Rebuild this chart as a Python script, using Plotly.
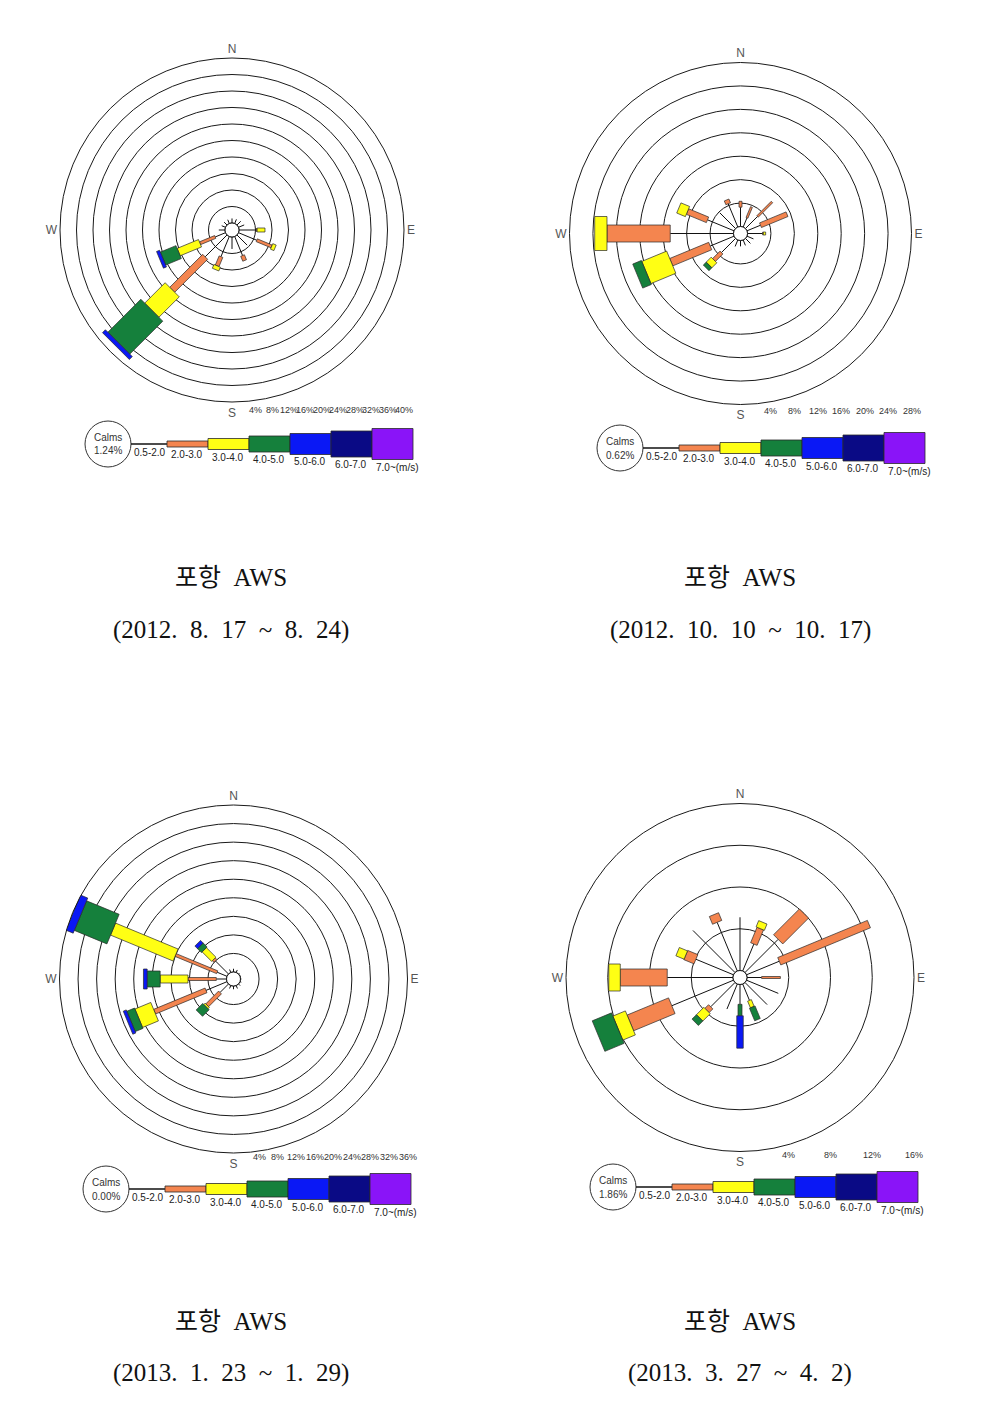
import math
import plotly.graph_objects as go

# ---------------------------------------------------------------- data
DIRECTIONS = ["N", "NNE", "NE", "ENE", "E", "ESE", "SE", "SSE",
              "S", "SSW", "SW", "WSW", "W", "WNW", "NW", "NNW"]
DIR_DEG = [0, 22.5, 45, 67.5, 90, 112.5, 135, 157.5,
           180, 202.5, 225, 247.5, 270, 292.5, 315, 337.5]
SPEED_LABELS = ["0.5-2.0", "2.0-3.0", "3.0-4.0", "4.0-5.0",
                "5.0-6.0", "6.0-7.0", "7.0~(m/s)"]
STATION = ["포항  AWS", "포항  AWS", "포항  AWS", "포항  AWS"]
PERIODS = ["(2012.  8.  17  ~  8.  24)", "(2012.  10.  10  ~  10.  17)",
           "(2013.  1.  23  ~  1.  29)", "(2013.  3.  27  ~  4.  2)"]
CALMS = [1.24, 0.62, 0.00, 1.86]
RING_MAX = [40, 28, 36, 16]          # outermost ring (%)

# frequency (%) per direction (N..NNW) for each speed class
P1_05_20 = [1.1, 1.1, 1.3, 1.5, 4.2, 4.8, 3.5, 5.0, 2.9, 5.3, 7.5, 2.7, 1.5, 1.0, 1.0, 1.0]
P1_20_30 = [0, 0, 0, 0, 0.2, 3.9, 0, 1.3, 0, 2.4, 11.3, 4.0, 0, 0, 0, 0]
P1_30_40 = [0, 0, 0, 0, 1.9, 0.9, 0, 0, 0, 1.0, 7.0, 5.6, 0, 0, 0, 0]
P1_40_50 = [0, 0, 0, 0, 0, 0, 0, 0, 0, 0, 11.3, 4.1, 0, 0, 0, 0]
P1_50_60 = [0, 0, 0, 0, 0, 0, 0, 0, 0, 0, 1.0, 0.8, 0, 0, 0, 0]
P1_60_70 = [0, 0, 0, 0, 0, 0, 0, 0, 0, 0, 0, 0, 0, 0, 0, 0]
P1_70_UP = [0, 0, 0, 0, 0, 0, 0, 0, 0, 0, 0, 0, 0, 0, 0, 0]

P2_05_20 = [3.3, 1.7, 2.9, 2.5, 2.6, 1.2, 1.2, 1.0, 1.0, 1.2, 3.4, 4.4, 10.8, 4.9, 3.8, 4.3]
P2_20_30 = [1.0, 2.0, 3.5, 4.9, 0.1, 0, 0, 0, 0, 0, 1.8, 7.2, 10.8, 3.7, 0, 0.7]
P2_30_40 = [0, 0, 0, 0, 0.4, 0, 0, 0, 0, 0, 1.2, 4.6, 2.1, 1.6, 0, 0]
P2_40_50 = [0, 0, 0, 0, 0, 0, 0, 0, 0, 0, 0.7, 1.6, 0, 0, 0, 0]
P2_50_60 = [0, 0, 0, 0, 0, 0, 0, 0, 0, 0, 0, 0, 0, 0, 0, 0]
P2_60_70 = [0, 0, 0, 0, 0, 0, 0, 0, 0, 0, 0, 0, 0, 0, 0, 0]
P2_70_UP = [0, 0, 0, 0, 0, 0, 0, 0, 0, 0, 0, 0, 0, 0, 0, 0]

P3_05_20 = [0.7, 0.6, 0.3, 0.2, 0.2, 0.3, 0.5, 0.7, 0.7, 0.7, 2.6, 4.9, 2.2, 2.3, 4.0, 0.7]
P3_20_30 = [0, 0, 0, 0, 0, 0, 0, 0, 0, 0, 3.9, 12.0, 6.1, 9.7, 0.5, 0]
P3_30_40 = [0, 0, 0, 0, 0, 0, 0, 0, 0, 0, 0.4, 3.7, 6.0, 14.6, 2.9, 0]
P3_40_50 = [0, 0, 0, 0, 0, 0, 0, 0, 0, 0, 2.0, 1.8, 2.8, 7.6, 1.2, 0]
P3_50_60 = [0, 0, 0, 0, 0, 0, 0, 0, 0, 0, 0, 0.7, 0.8, 1.7, 0.8, 0]
P3_60_70 = [0, 0, 0, 0, 0, 0, 0, 0, 0, 0, 0, 0, 0, 0, 0, 0]
P3_70_UP = [0, 0, 0, 0, 0, 0, 0, 0, 0, 0, 0, 0, 0, 0, 0, 0]

P4_05_20 = [5.1, 2.8, 4.5, 3.4, 1.4, 3.3, 3.0, 1.7, 1.9, 2.6, 3.3, 6.4, 6.3, 3.9, 5.7, 5.05]
P4_20_30 = [0, 1.6, 3.5, 9.3, 1.8, 0, 0, 0, 0, 0, 0.5, 4.3, 4.5, 1.05, 0, 0.8]
P4_30_40 = [0, 0.65, 0, 0, 0, 0, 0, 0.7, 0, 0, 1.0, 1.3, 1.1, 0.85, 0, 0]
P4_40_50 = [0, 0, 0, 0, 0, 0, 0, 1.3, 1.1, 0, 0.6, 2.0, 0, 0, 0, 0]
P4_50_60 = [0, 0, 0, 0, 0, 0, 0, 0, 3.1, 0, 0, 0, 0, 0, 0, 0]
P4_60_70 = [0, 0, 0, 0, 0, 0, 0, 0, 0, 0, 0, 0, 0, 0, 0, 0]
P4_70_UP = [0, 0, 0, 0, 0, 0, 0, 0, 0, 0, 0, 0, 0, 0, 0, 0]

PANELS_DATA = [
    [P1_05_20, P1_20_30, P1_30_40, P1_40_50, P1_50_60, P1_60_70, P1_70_UP],
    [P2_05_20, P2_20_30, P2_30_40, P2_40_50, P2_50_60, P2_60_70, P2_70_UP],
    [P3_05_20, P3_20_30, P3_30_40, P3_40_50, P3_50_60, P3_60_70, P3_70_UP],
    [P4_05_20, P4_20_30, P4_30_40, P4_40_50, P4_50_60, P4_60_70, P4_70_UP],
]

# ---------------------------------------------------------------- style
W, H = 1002, 1412
COLORS = ["#111111", "#F4854F", "#FFFF14", "#15803C", "#0A18F5", "#0A0A85", "#8A14F8"]
EDGE = "#2a2a2a"
SANS = "Liberation Sans, Arial, sans-serif"
SERIF = "Liberation Serif, Noto Sans CJK KR, serif"

# panel geometry in pixels: centre x, centre y, outer radius, calm radius
PANEL_GEOM = [(232, 230, 172, 7), (740.5, 233.5, 171, 7),
              (233.5, 979, 174, 7), (740, 977.5, 174, 7)]
RING_LABEL_Y = [410, 411, 1157, 1155]
LEGEND_POS = [(108, 444), (620, 448), (106, 1189), (613, 1187)]
TITLE_POS = [(231, 578, 630), (740, 578, 630), (231, 1321, 1373), (740, 1321, 1373)]
LEG_BOX_W = 41
LEG_BOX_H = [6, 11, 16, 21, 26, 31]
CALM_R = 23

DEFAULT_WIDTH = [4, 7, 12, 16, 20, 24]   # px width of speed classes 2.0-3.0 .. 7.0~
BAR_WIDTH = [
    {"E": [3, 4], "ESE": [3, 6], "SSE": [4], "SSW": [4, 7],
     "SW": [7, 20, 31, 38], "WSW": [3, 8, 14, 18]},
    {"N": [3], "NNE": [2], "NE": [2], "ENE": [5], "E": [3, 3],
     "SW": [4, 8, 8], "WSW": [8, 24, 26], "W": [17, 34], "WNW": [6, 11], "NNW": [5]},
    {"SW": [4, 6, 9], "WSW": [5, 20, 22, 25], "W": [3, 8, 16, 20],
     "WNW": [3, 13, 32, 38], "NW": [4, 6, 8, 8]},
    {"NNE": [7, 9], "NE": [13], "ENE": [8], "E": [2], "SSE": [4, 4, 6],
     "S": [4, 4, 4, 6.5], "SW": [6, 9, 9], "WSW": [17, 26, 33], "W": [17, 27],
     "WNW": [10, 9], "NNW": [10]},
]


def px(x, y):
    return x / W, 1 - y / H


def seg_polygon(theta, f1, f2, width, hole_px, scale):
    """Rectangle along direction theta, in radial-axis units (through hole offset)."""
    d1 = hole_px + f1 * scale
    d2 = hole_px + f2 * scale
    half = width / 2.0
    pts = [(d1, -half), (d2, -half), (d2, half), (d1, half), (d1, -half)]
    rr, tt = [], []
    for d, v in pts:
        rr.append((math.hypot(d, v) - hole_px) / scale)
        tt.append(theta + math.degrees(math.atan2(v, d)))
    return rr, tt


fig = go.Figure()
annotations, shapes = [], []
layout_polars = {}

for p in range(4):
    cx, cy, R, hole_px = PANEL_GEOM[p]
    rmax = RING_MAX[p]
    scale = (R - hole_px) / rmax
    sub = "polar" if p == 0 else f"polar{p + 1}"
    data = PANELS_DATA[p]

    # calm circle (edge of hole)
    circ_t = list(range(0, 361, 5))
    fig.add_trace(go.Scatterpolar(r=[0] * len(circ_t), theta=circ_t, mode="lines",
                                  line=dict(color="#1a1a1a", width=1),
                                  hoverinfo="skip", subplot=sub))

    for i, d in enumerate(DIRECTIONS):
        theta = DIR_DEG[i]
        # 0.5-2.0 class as a thin line
        lv = data[0][i]
        if lv > 0:
            fig.add_trace(go.Scatterpolar(r=[0, lv], theta=[theta, theta], mode="lines",
                                          line=dict(color=COLORS[0], width=1),
                                          hoverinfo="skip", subplot=sub))
        cum = lv
        widths = BAR_WIDTH[p].get(d, [])
        for k in range(1, 7):
            v = data[k][i]
            if v <= 0:
                continue
            w = widths[k - 1] if k - 1 < len(widths) else DEFAULT_WIDTH[k - 1]
            rr, tt = seg_polygon(theta, cum, cum + v, w, hole_px, scale)
            fig.add_trace(go.Scatterpolar(r=rr, theta=tt, mode="lines", fill="toself",
                                          fillcolor=COLORS[k],
                                          line=dict(color=EDGE, width=0.7),
                                          hoverinfo="skip", subplot=sub))
            cum += v

    layout_polars[sub] = dict(
        domain=dict(x=[(cx - R) / W, (cx + R) / W], y=[1 - (cy + R) / H, 1 - (cy - R) / H]),
        hole=hole_px / R,
        bgcolor="white",
        radialaxis=dict(range=[0, rmax], tickvals=list(range(4, rmax, 4)),
                        showticklabels=False, ticks="", showline=False,
                        gridcolor="#1a1a1a", gridwidth=0.8),
        angularaxis=dict(rotation=90, direction="clockwise", tickmode="array",
                         tickvals=[0, 90, 180, 270], ticktext=["N", "E", "S", "W"],
                         showgrid=False, showline=True, linecolor="#1a1a1a", linewidth=1,
                         ticks="", tickfont=dict(size=12, color="#555555", family=SANS)),
    )

    # ring labels
    for val in range(4, rmax + 1, 4):
        x, y = px(cx + hole_px + val * scale, RING_LABEL_Y[p])
        annotations.append(dict(x=x, y=y, xref="paper", yref="paper", text=f"{val}%",
                                showarrow=False, xanchor="center", yanchor="middle",
                                font=dict(size=9, family=SANS, color="#333333")))

    # legend: calm circle + speed classes
    lx, ly = LEGEND_POS[p]
    x0, y0 = px(lx - CALM_R, ly - CALM_R)
    x1, y1 = px(lx + CALM_R, ly + CALM_R)
    shapes.append(dict(type="circle", xref="paper", yref="paper", x0=x0, x1=x1, y0=y1, y1=y0,
                       line=dict(color="#333333", width=1), fillcolor="white"))
    for txt, dy in (("Calms", -7), (f"{CALMS[p]:.2f}%", 7)):
        x, y = px(lx, ly + dy)
        annotations.append(dict(x=x, y=y, xref="paper", yref="paper", text=txt,
                                showarrow=False, xanchor="center", yanchor="middle",
                                font=dict(size=10, family=SANS, color="#333333")))
    box_start = lx + 59
    xa, ya = px(lx + CALM_R, ly)
    xb, _ = px(box_start, ly)
    shapes.append(dict(type="line", xref="paper", yref="paper", x0=xa, x1=xb, y0=ya, y1=ya,
                       line=dict(color="#111111", width=1.5)))
    x, y = px(lx + CALM_R + 1, ly + 1)
    annotations.append(dict(x=x, y=y, xref="paper", yref="paper", text=SPEED_LABELS[0],
                            showarrow=False, xanchor="left", yanchor="top",
                            font=dict(size=10, family=SANS, color="#222222")))
    for k in range(1, 7):
        bx0 = box_start + (k - 1) * LEG_BOX_W
        hh = LEG_BOX_H[k - 1] / 2
        X0, Y0 = px(bx0, ly - hh)
        X1, Y1 = px(bx0 + LEG_BOX_W, ly + hh)
        shapes.append(dict(type="rect", xref="paper", yref="paper", x0=X0, x1=X1, y0=Y1, y1=Y0,
                           line=dict(color=EDGE, width=0.8), fillcolor=COLORS[k]))
        x, y = px(bx0 + 2, ly + hh)
        annotations.append(dict(x=x, y=y, xref="paper", yref="paper", text=SPEED_LABELS[k],
                                showarrow=False, xanchor="left", yanchor="top",
                                font=dict(size=10, family=SANS, color="#222222")))

    # captions
    tx, ty1, ty2 = TITLE_POS[p]
    for txt, ty in ((STATION[p], ty1), (PERIODS[p], ty2)):
        x, y = px(tx, ty)
        annotations.append(dict(x=x, y=y, xref="paper", yref="paper",
                                text=txt.replace("  ", " \u00a0"),
                                showarrow=False, xanchor="center", yanchor="middle",
                                font=dict(size=25, family=SERIF, color="#111111")))

fig.update_layout(width=W, height=H, margin=dict(l=0, r=0, t=0, b=0),
                  paper_bgcolor="white", plot_bgcolor="white", showlegend=False,
                  annotations=annotations, shapes=shapes, **layout_polars)

fig.write_html("out.html")
